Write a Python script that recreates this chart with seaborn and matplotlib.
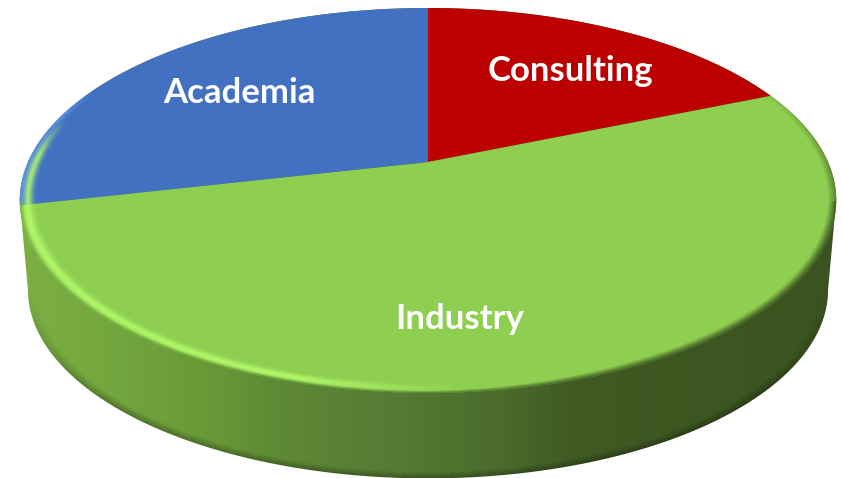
import numpy as np
import seaborn as sns
import matplotlib
matplotlib.use("Agg")
import matplotlib.pyplot as plt
from matplotlib.colors import LinearSegmentedColormap, to_rgb
from matplotlib.patches import Polygon

# pie values
categories = ["Consulting", "Industry", "Academia"]
shares = [18.7, 52.7, 28.6]
slice_colors = ["#BC0000", "#8ECE50", "#4271C1"]
label_xy = [(570, 71), (460, 319), (239, 93)]

# side wall colour from left to right
side_stops = [0.0, 0.1, 0.22, 0.32, 0.47, 0.59, 0.68, 1.0]
side_colors = ["#7CB043", "#74A83F", "#6A9A38", "#5E8935", "#547A33", "#4A6B2B", "#3F5A23", "#3B5320"]

W, H = 842, 478
CX, CY = 428, 162      # pie centre on the canvas
A, B, K = 400, 184.8, 0.2   # perspective of the disc
DROP, SHRINK = 90, 0.98     # bottom disc


def project(x, y, scale=1.0, drop=0.0):
    w = 1 + K * y
    return CX + scale * A * x / w, CY + drop - scale * B * y / w


def unproject(px, py, scale=1.0, drop=0.0):
    X = (px - CX) / (scale * A)
    Y = (CY + drop - py) / (scale * B)
    y = Y / (1 - K * Y)
    x = X * (1 + K * y)
    return x, y


def overlay(color, alpha, clip):
    layer = np.zeros((H, W, 4))
    layer[..., :3] = color
    layer[..., 3] = alpha
    img = ax.imshow(layer, extent=(0, W, H, 0), aspect="auto", zorder=6, interpolation="bilinear")
    img.set_clip_path(clip)


sns.set_theme(style="white")
plt.rcParams["font.family"] = ["Lato", "DejaVu Sans"]

fig = plt.figure(figsize=(W / 100, H / 100), dpi=100)
ax = fig.add_axes([0, 0, 1, 1])

# the pie gives the slice angles, each slice is then laid on the tilted disc
wedges, _ = ax.pie(shares, colors=slice_colors, startangle=90, counterclock=False,
                   wedgeprops={"linewidth": 0})
ax.set_aspect("auto")
ax.axis("off")
for w in wedges:
    w.set_visible(False)
    a = np.radians(np.linspace(w.theta1, w.theta2, 300))
    sx, sy = project(np.cos(a), np.sin(a))
    pts = np.vstack([[CX, CY], np.column_stack([sx, sy])])
    ax.add_patch(Polygon(pts, closed=True, fc=w.get_facecolor(), ec="none", zorder=5))
ax.set_xlim(0, W)
ax.set_ylim(H, 0)

t = np.linspace(0, 2 * np.pi, 720)
top_x, top_y = project(np.cos(t), np.sin(t))
bot_x, bot_y = project(np.cos(t), np.sin(t), SHRINK, DROP)

# soft shadow round the bottom disc
dx, dy = np.gradient(bot_x), np.gradient(bot_y)
n = np.hypot(dx, dy)
for grow in range(1, 15):
    pts = np.column_stack([bot_x + dy / n * grow, bot_y - dx / n * grow])
    ax.add_patch(Polygon(pts, closed=True, fc="black", ec="none", alpha=0.011, zorder=1))

px, py = np.meshgrid(np.arange(W) + 0.5, np.arange(H) + 0.5)

# side wall, horizontal gradient darkened along the lower edge
cmap = LinearSegmentedColormap.from_list("side", list(zip(side_stops, side_colors)))
side = cmap(np.clip((px - 19) / 817, 0, 1))
x2, y2 = unproject(px, py, SHRINK, DROP)
r2 = np.hypot(x2, y2)
edge = np.clip((r2 - 0.975) / 0.025, 0, 1) * np.clip((-y2 - 0.2) / 0.5, 0, 1)
side_img = side.copy()
side_img[..., :3] *= (1 - 0.3 * edge)[..., None]
im = ax.imshow(side_img, extent=(0, W, H, 0), aspect="auto", zorder=2, interpolation="bilinear")
a1 = np.linspace(-0.2, np.pi + 0.2, 300)
a2 = np.linspace(np.pi + 0.2, 2 * np.pi - 0.2, 300)
hull = np.vstack([np.column_stack(project(np.cos(a1), np.sin(a1))),
                  np.column_stack(project(np.cos(a2), np.sin(a2), SHRINK, DROP))])
wall = Polygon(hull, closed=True, fc="none", ec="none", transform=ax.transData)
ax.add_patch(wall)
im.set_clip_path(wall)

# bevel on the rim of the top disc
disc = Polygon(np.column_stack([top_x, top_y]), closed=True, fc="none", ec="none", transform=ax.transData)
ax.add_patch(disc)
x1, y1 = unproject(px, py)
r1 = np.hypot(x1, y1)

# bright band, front left
bump = np.exp(-((r1 - 0.982) / 0.012) ** 2)
light = np.clip((470 - px) / 170, 0, 1) * np.clip((-y1 + 0.24) / 0.2, 0, 1)
overlay(to_rgb("#B4FA6A"), 0.9 * bump * light, disc)

# blue slice gets a pale rim at the left end
blue = (x1 < 0) & (y1 > -0.22)
overlay(to_rgb("#5F95E8"), 0.7 * np.clip((r1 - 0.98) / 0.015, 0, 1) * np.clip((-0.9 - x1) / 0.05, 0, 1) * blue, disc)

# rim melts into the wall, wider and stronger on the right
r0 = 0.991 - 0.011 * np.clip((px - 430) / 200, 0, 1)
melt = np.clip((r1 - r0) / (1 - r0), 0, 1)
melt = melt * np.where(y1 < -0.2, 1.0, np.clip(0.95 * (x1 - 0.3), 0, 0.7) * np.clip((0.5 - y1) / 0.6, 0, 1))
overlay(side[..., :3], 0.95 * melt, disc)

for name, (lx, ly) in zip(categories, label_xy):
    ax.text(lx, ly, name, color="white", fontsize=25, fontweight="bold",
            ha="center", va="center", zorder=8)

ax.set_xlim(0, W)
ax.set_ylim(H, 0)
fig.savefig("out.png", dpi=100)
